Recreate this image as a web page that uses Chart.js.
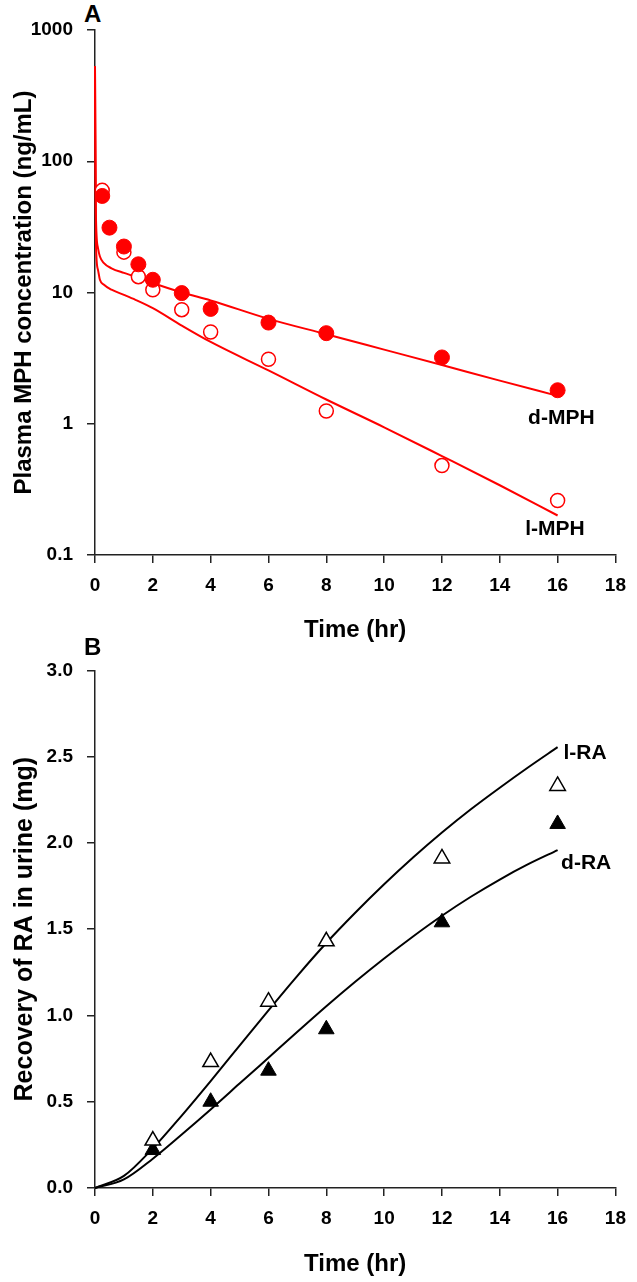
<!DOCTYPE html>
<html>
<head>
<title>Plasma MPH and urinary RA</title>
<script src="https://cdn.jsdelivr.net/npm/chart.js"></script>
<style>
  body { margin: 0; background: #fff; }
  .page { position: relative; width: 637px; height: 1282px; font-family: "Liberation Sans", Arial, sans-serif; }
  .panel { position: absolute; left: 0; }
  .letter { position: absolute; left: 84px; font-weight: bold; font-size: 24px; color: #000; }
</style>
</head>
<body>
<div class="page">
  <div class="letter" style="top: 0px;">A</div>
  <canvas id="chartA" class="panel" style="top: 0;" width="637" height="645"></canvas>
  <div class="letter" style="top: 633px;">B</div>
  <canvas id="chartB" class="panel" style="top: 645px;" width="637" height="637"></canvas>
</div>

<script>
// Panel A: plasma concentrations (ng/mL)
const timeA = [0.25, 0.5, 1, 1.5, 2, 3, 4, 6, 8, 12, 16];
const dMPH = [54.4, 31.2, 22.4, 16.4, 12.5, 9.9, 7.5, 5.9, 4.9, 3.2, 1.8];
const lMPH = [60, null, 20.3, 13.2, 10.5, 7.4, 5.0, 3.1, 1.25, 0.48, 0.26];

const fitTimeA = [0, 0.03, 0.1, 0.17, 0.3, 0.57, 1, 1.4, 2, 3, 4, 6, 8, 10, 12, 14, 16];
const dMPHFit = [530, 40, 22, 18.8, 16.8, 15.3, 14.1, 13.2, 11.8, 10.0, 8.7, 6.3, 4.81, 3.67, 2.8, 2.13, 1.63];
const lMPHFit = [530, 25, 15, 12.5, 11.5, 10.5, 9.6, 8.8, 7.6, 5.6, 4.2, 2.55, 1.53, 0.94, 0.567, 0.34, 0.2];

const logTicksA = [0.1, 1, 10, 100, 1000];

// Panel B: cumulative urinary recovery (mg)
const timeB = [2, 4, 6, 8, 12, 16];
const lRA = [0.275, 0.73, 1.08, 1.43, 1.91, 2.33];
const dRA = [0.22, 0.50, 0.68, 0.92, 1.54, 2.11];

const fitTimeB = [0, 1, 2, 3, 4, 5, 6, 7, 8, 9, 10, 11, 12, 13, 14, 15, 16];
const lRAFit = [0, 0.07, 0.23, 0.42, 0.62, 0.825, 1.03, 1.23, 1.42, 1.595, 1.76, 1.915, 2.06, 2.195, 2.32, 2.44, 2.555];
const dRAFit = [0, 0.05, 0.17, 0.31, 0.455, 0.605, 0.755, 0.905, 1.053, 1.195, 1.33, 1.458, 1.578, 1.688, 1.788, 1.878, 1.958];

// curve labels, in data units (left edge, vertical middle)
const labelsA = [
  { text: 'd-MPH', x: 14.98, y: 1.11 },
  { text: 'l-MPH', x: 14.88, y: 0.156 }
];
const labelsB = [
  { text: 'l-RA', x: 16.2, y: 2.52 },
  { text: 'd-RA', x: 16.12, y: 1.88 }
];

const FONT = '"Liberation Sans", Arial, sans-serif';
const AXIS = '#222';

function pts(xs, ys) {
  return xs.map((x, i) => ({ x: x, y: ys[i] }));
}

const curveLabels = {
  id: 'curveLabels',
  afterDatasetsDraw(chart, args, opts) {
    const ctx = chart.ctx;
    const sx = chart.scales.x, sy = chart.scales.y;
    ctx.save();
    ctx.font = 'bold 21px ' + FONT;
    ctx.fillStyle = '#000';
    ctx.textAlign = 'left';
    ctx.textBaseline = 'middle';
    opts.items.forEach(l => {
      ctx.fillText(l.text, sx.getPixelForValue(l.x), sy.getPixelForValue(l.y));
    });
    ctx.restore();
  }
};

function xAxis(height, titlePad) {
  return {
    type: 'linear',
    min: 0,
    max: 18,
    afterFit: s => { s.height = height; },
    ticks: { stepSize: 2, padding: 11, color: '#000', font: { family: FONT, size: 19, weight: 'bold' } },
    grid: { drawOnChartArea: false, tickLength: 8, color: AXIS, lineWidth: 1.5 },
    border: { color: AXIS, width: 1.5 },
    title: { display: true, text: 'Time (hr)', color: '#000', padding: { top: 0, bottom: titlePad }, font: { family: FONT, size: 24, weight: 'bold' } }
  };
}

function yTitle(text, size) {
  return { display: true, text: text, color: '#000', padding: { top: 10, bottom: 0 }, font: { family: FONT, size: size, weight: 'bold' } };
}

const yTickFont = { family: FONT, size: 19, weight: 'bold' };
const yGrid = { drawOnChartArea: false, tickLength: 8, color: AXIS, lineWidth: 1.5 };

function fitLine(label, xs, ys, colour) {
  return {
    label: label,
    data: pts(xs, ys),
    borderColor: colour,
    borderWidth: 2,
    pointRadius: 0,
    cubicInterpolationMode: 'monotone',
    clip: false
  };
}

// ---- Panel A ----
new Chart(document.getElementById('chartA'), {
  type: 'line',
  data: {
    datasets: [{
      label: 'd-MPH observed',
      data: pts(timeA, dMPH),
      showLine: false,
      pointRadius: 7.5,
      pointBackgroundColor: '#ff0000',
      pointBorderColor: '#ff0000',
      pointBorderWidth: 1
    }, {
      label: 'l-MPH observed',
      data: pts(timeA, lMPH),
      showLine: false,
      pointRadius: 7,
      pointBackgroundColor: '#fff',
      pointBorderColor: '#ff0000',
      pointBorderWidth: 1.5
    },
    fitLine('d-MPH fit', fitTimeA, dMPHFit, '#ff0000'),
    fitLine('l-MPH fit', fitTimeA, lMPHFit, '#ff0000')]
  },
  options: {
    responsive: false,
    animation: false,
    layout: { padding: { left: 0, top: 30, right: 18, bottom: 0 } },
    plugins: { legend: { display: false }, tooltip: { enabled: false }, curveLabels: { items: labelsA } },
    scales: {
      x: xAxis(90, 0),
      y: {
        type: 'logarithmic',
        min: 0.1,
        max: 1000,
        afterFit: s => { s.width = 95; },
        afterBuildTicks: s => { s.ticks = logTicksA.map(v => ({ value: v })); },
        ticks: { padding: 14, color: '#000', font: yTickFont, callback: v => String(v) },
        grid: yGrid,
        border: { color: AXIS, width: 1.5 },
        title: yTitle('Plasma MPH concentration (ng/mL)', 24)
      }
    }
  },
  plugins: [curveLabels]
});

// ---- Panel B ----
new Chart(document.getElementById('chartB'), {
  type: 'line',
  data: {
    datasets: [{
      label: 'l-RA observed',
      data: pts(timeB, lRA),
      showLine: false,
      pointStyle: 'triangle',
      pointRadius: 9,
      pointBackgroundColor: '#fff',
      pointBorderColor: '#000',
      pointBorderWidth: 1.5
    }, {
      label: 'd-RA observed',
      data: pts(timeB, dRA),
      showLine: false,
      pointStyle: 'triangle',
      pointRadius: 9,
      pointBackgroundColor: '#000',
      pointBorderColor: '#000',
      pointBorderWidth: 1
    },
    fitLine('l-RA fit', fitTimeB, lRAFit, '#000'),
    fitLine('d-RA fit', fitTimeB, dRAFit, '#000')]
  },
  options: {
    responsive: false,
    animation: false,
    layout: { padding: { left: 0, top: 19, right: 18, bottom: 0 } },
    plugins: { legend: { display: false }, tooltip: { enabled: false }, curveLabels: { items: labelsB } },
    scales: {
      x: xAxis(94, 3),
      y: {
        type: 'linear',
        min: 0,
        max: 3,
        afterFit: s => { s.width = 95; },
        ticks: { stepSize: 0.5, padding: 14, color: '#000', font: yTickFont, callback: v => v.toFixed(1) },
        grid: yGrid,
        border: { color: AXIS, width: 1.5 },
        title: yTitle('Recovery of RA in urine (mg)', 25)
      }
    }
  },
  plugins: [curveLabels]
});
</script>
</body>
</html>
